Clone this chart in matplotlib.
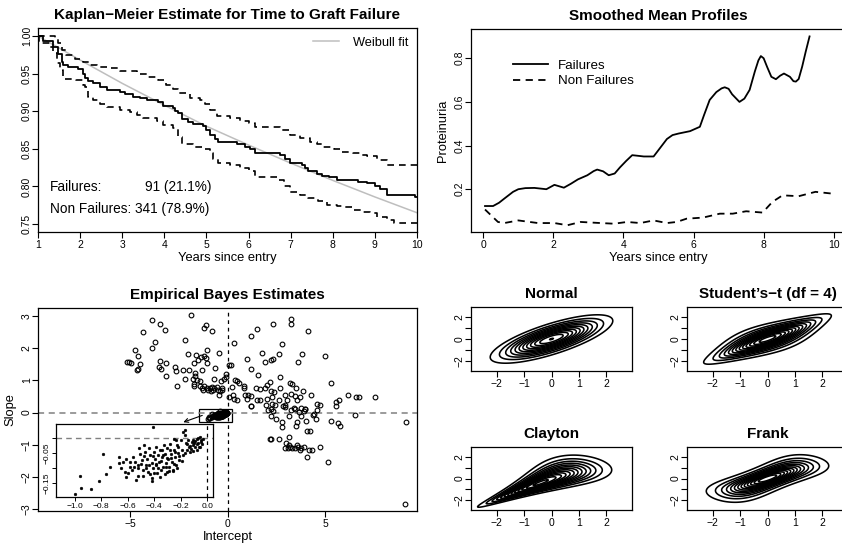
import math
import numpy as np
import matplotlib
matplotlib.use("Agg")
import matplotlib.pyplot as plt
from matplotlib.patches import Rectangle

plt.rcParams['font.family'] = ['Liberation Sans', 'DejaVu Sans']
plt.rcParams['axes.linewidth'] = 0.9

# ---------------- data ----------------
# Kaplan-Meier estimate (step times / survival) and 95% band
km_t = [1.0, 1.12, 1.36, 1.48, 1.56, 1.6, 1.71, 1.95, 2.07, 2.11, 2.19, 2.31, 2.47, 2.63, 2.94,
        3.06, 3.26, 3.42, 3.58, 3.85, 3.97, 4.2, 4.25, 4.33, 4.41, 4.57, 4.69, 4.93, 5.0, 5.08,
        5.2, 5.28, 5.72, 5.92, 6.04, 6.15, 6.75, 6.87, 6.99, 7.27, 7.35, 7.42, 7.62, 7.74, 7.9,
        8.1, 8.61, 8.81, 9.0, 9.13, 9.29, 9.96, 10.0]
km_s = [1.0, 0.993, 0.986, 0.976, 0.966, 0.962, 0.959, 0.956, 0.95, 0.944, 0.94, 0.937, 0.932,
        0.928, 0.926, 0.923, 0.919, 0.917, 0.915, 0.912, 0.907, 0.904, 0.9, 0.897, 0.89, 0.886,
        0.883, 0.88, 0.875, 0.868, 0.863, 0.859, 0.856, 0.853, 0.85, 0.845, 0.842, 0.836, 0.831,
        0.828, 0.824, 0.82, 0.817, 0.814, 0.812, 0.809, 0.806, 0.804, 0.8, 0.796, 0.789, 0.786,
        0.786]
up_t = [1.0, 1.36, 1.4, 1.48, 1.56, 1.67, 1.87, 2.07, 2.23, 2.39, 2.63, 2.94, 3.34, 3.58, 3.85,
        4.05, 4.21, 4.33, 4.61, 4.85, 4.97, 5.08, 5.24, 5.56, 5.8, 6.0, 6.15, 6.75, 6.99, 7.23,
        7.46, 7.62, 7.74, 8.02, 8.18, 8.49, 8.65, 8.81, 9.05, 9.29, 10.0]
up_s = [1.0, 1.0, 0.996, 0.99, 0.981, 0.975, 0.97, 0.966, 0.961, 0.959, 0.957, 0.954, 0.95,
        0.945, 0.941, 0.935, 0.93, 0.924, 0.918, 0.915, 0.91, 0.902, 0.893, 0.891, 0.887, 0.884,
        0.879, 0.875, 0.868, 0.864, 0.859, 0.856, 0.853, 0.85, 0.846, 0.844, 0.842, 0.84, 0.835,
        0.829, 0.829]
lo_t = [1.0, 1.03, 1.28, 1.36, 1.44, 1.52, 1.6, 1.91, 2.07, 2.11, 2.19, 2.31, 2.47, 2.63, 2.94,
        3.18, 3.34, 3.5, 3.82, 3.97, 4.21, 4.33, 4.41, 4.69, 4.93, 5.08, 5.16, 5.28, 5.56, 5.8,
        6.0, 6.15, 6.71, 6.83, 6.99, 7.23, 7.42, 7.66, 7.86, 8.1, 8.26, 8.49, 8.69, 8.89, 9.05,
        9.29, 9.45, 10.0]
lo_s = [1.0, 0.99, 0.986, 0.977, 0.964, 0.955, 0.943, 0.941, 0.935, 0.932, 0.919, 0.915, 0.91,
        0.906, 0.902, 0.899, 0.895, 0.891, 0.887, 0.882, 0.877, 0.866, 0.857, 0.853, 0.85, 0.844,
        0.837, 0.831, 0.828, 0.824, 0.82, 0.812, 0.809, 0.8, 0.793, 0.789, 0.784, 0.78, 0.775,
        0.774, 0.772, 0.769, 0.766, 0.764, 0.76, 0.756, 0.751, 0.751]
wb_t = [1, 2, 3, 4, 5, 6, 7, 8, 9, 10]
wb_s = [1.0, 0.968, 0.937, 0.908, 0.88, 0.855, 0.831, 0.808, 0.786, 0.765]

# smoothed mean proteinuria profiles
fail_t = [0.05, 0.28, 0.45, 0.6, 0.85, 1.0, 1.2, 1.46, 1.8, 2.03, 2.3, 2.5, 2.7, 2.97, 3.15,
          3.25, 3.42, 3.58, 3.75, 3.9, 4.08, 4.25, 4.42, 4.58, 4.86, 5.05, 5.24, 5.4, 5.57, 5.9,
          6.18, 6.3, 6.46, 6.65, 6.8, 6.89, 7.0, 7.1, 7.31, 7.45, 7.6, 7.75, 7.85, 7.92, 8.0,
          8.1, 8.22, 8.35, 8.47, 8.58, 8.75, 8.85, 8.92, 9.0, 9.1, 9.2, 9.31]
fail_v = [0.123, 0.123, 0.138, 0.157, 0.188, 0.2, 0.205, 0.206, 0.2, 0.22, 0.207, 0.225, 0.245,
          0.264, 0.283, 0.29, 0.282, 0.264, 0.272, 0.3, 0.33, 0.356, 0.353, 0.35, 0.35, 0.39,
          0.43, 0.448, 0.455, 0.466, 0.486, 0.54, 0.609, 0.645, 0.662, 0.667, 0.66, 0.635, 0.6,
          0.615, 0.655, 0.74, 0.79, 0.81, 0.8, 0.76, 0.715, 0.704, 0.72, 0.73, 0.715, 0.695,
          0.693, 0.705, 0.762, 0.83, 0.9]
nonf_t = [0.05, 0.42, 0.6, 1.0, 1.56, 2.03, 2.4, 2.78, 3.35, 3.73, 4.1, 4.48, 4.86, 5.24, 5.52,
          5.8, 6.27, 6.75, 7.12, 7.5, 7.97, 8.25, 8.54, 9.0, 9.48, 9.95]
nonf_v = [0.107, 0.05, 0.045, 0.057, 0.045, 0.045, 0.035, 0.05, 0.045, 0.042, 0.05, 0.045,
          0.057, 0.045, 0.05, 0.065, 0.07, 0.088, 0.088, 0.099, 0.093, 0.142, 0.172, 0.168,
          0.188, 0.18]

# empirical Bayes estimates (intercept, slope), points away from the origin cluster
eb_int = [-1.85, -3.87, -3.44, -3.2, -4.32, -1.08, -1.2, -0.8, -3.74, -2.17, -3.87, -4.72, -4.57,
          -2.04, -1.05, -0.45, -1.64, -1.37, -1.23, -1.08, -1.51, -1.03, -1.72, -5.17, -5.03,
          -4.95, -4.49, -3.47, -3.18, -4.6, -4.62, -3.53, -3.41, -2.71, -2.62, -2.29, -1.97, -1.32,
          -0.64, -1.69, -1.66, -3.15, -2.19, -1.75, -1.56, -1.4, -0.7, -0.2, -0.07, -0.31, -1.72,
          -1.7, -1.42, -1.3, -1.18, -2.57, -1.05, -0.91, -0.8, -0.67, -0.53, -1.25, -0.98, -0.84,
          -0.74, -0.5, -0.36, -0.26, -0.26, -0.45,
          3.28, 3.28, 2.32, 1.5, 4.14, 1.23, 0.34, 2.78, 1.76, 2.65, 3.83, 1.01, 4.99, 2.24, 2.32,
          1.91, 3.61, 0.1, 0.2, 1.18, -0.07, 1.59, 2.7, 0.38, 0.51, 0.58, 2.17, 3.21, 3.33, 3.49,
          5.33, 0.24, 0.84, 1.47, 1.66, 1.91, 2.05, 2.68, 3.86, 0.29, 0.84, 0.89, 2.22, 2.36, 2.94,
          3.28, 3.45, 3.74, 4.27, 0.08, 0.34, 0.49, 1.06, 1.2, 1.02, 1.49, 1.69, 2.05, 2.26, 2.65,
          3.03, 3.54, 6.19, 6.61, 6.72, 7.59, 5.71, 5.59, 4.61, 4.77, 3.79, 3.96, 3.42, 2.85, 2.97,
          2.29, 2.43, 1.95, 1.2, 5.54,
          1.18, 2.08, 2.25, 2.34, 2.94, 3.25, 3.45, 3.66, 3.9, 4.0, 4.44, 4.39, 4.61, 4.56, 2.25,
          2.51, 3.16, 3.76, 2.82, 2.77, 3.57, 3.49, 4.05, 5.33, 5.67, 5.79, 6.56, 9.16, 2.17, 2.25,
          2.63, 3.18, 3.02, 3.14, 4.1, 4.24, 2.94, 3.08, 3.21, 3.33, 3.45, 3.62, 3.79, 3.9, 3.71,
          3.59, 4.2, 4.34, 4.72, 4.07, 5.16, 9.09]
eb_slope = [3.03, 2.88, 2.75, 2.58, 2.52, 2.72, 2.64, 2.53, 2.2, 2.25, 2.0, 1.94, 1.77, 1.84, 1.94,
            1.86, 1.78, 1.73, 1.77, 1.7, 1.63, 1.55, 1.53, 1.58, 1.57, 1.56, 1.51, 1.6, 1.54, 1.35,
            1.32, 1.42, 1.35, 1.42, 1.28, 1.33, 1.32, 1.32, 1.4, 1.22, 1.14, 1.13, 1.04, 1.06, 1.01,
            0.97, 1.04, 1.04, 1.11, 0.98, 0.9, 0.83, 0.82, 0.78, 0.82, 0.84, 0.78, 0.76, 0.8, 0.76,
            0.8, 0.71, 0.69, 0.67, 0.69, 0.69, 0.67, 0.78, 0.69, 0.56,
            2.93, 2.77, 2.75, 2.59, 2.53, 2.38, 2.17, 2.13, 1.87, 1.84, 1.84, 1.68, 1.75, 1.65, 1.67,
            1.58, 1.58, 1.47, 1.49, 1.35, 1.21, 1.17, 1.11, 1.03, 0.98, 0.92, 0.96, 0.93, 0.88, 0.76,
            0.91, 0.79, 0.84, 0.75, 0.72, 0.75, 0.85, 0.78, 0.67, 0.55, 0.75, 0.55, 0.67, 0.64, 0.54,
            0.59, 0.51, 0.49, 0.54, 0.47, 0.43, 0.38, 0.56, 0.51, 0.43, 0.4, 0.38, 0.43, 0.49, 0.38,
            0.38, 0.4, 0.54, 0.47, 0.49, 0.49, 0.4, 0.33, 0.28, 0.25, 0.15, 0.12, 0.15, 0.2, 0.23,
            0.26, 0.22, 0.23, 0.2, 0.2,
            0.21, 0.07, 0.1, 0.04, 0.17, 0.07, 0.12, 0.02, 0.04, 0.1, -0.03, -0.08, 0.07, -0.19,
            -0.1, -0.19, -0.1, -0.1, -0.29, -0.45, -0.31, -0.42, -0.27, -0.27, -0.32, -0.43, -0.08,
            -0.31, -0.81, -0.81, -0.81, -0.76, -0.94, -1.02, -0.58, -0.58, -1.1, -1.12, -1.08,
            -1.12, -1.1, -1.08, -1.1, -1.08, -1.17, -1.02, -1.17, -1.17, -1.08, -1.4, -1.55, -2.84]

# cluster of estimates close to the origin (shown enlarged in the inset)
zm_int = [-0.41, -0.995, -0.957, -0.952, -0.874, -0.816, -0.786, -0.76, -0.735, -0.665, -0.665,
          -0.654, -0.622, -0.614, -0.609, -0.601, -0.564, -0.559, -0.548, -0.524, -0.521, -0.508,
          -0.495, -0.488, -0.483, -0.471, -0.463, -0.458, -0.446, -0.438, -0.433, -0.42, -0.418,
          -0.416, -0.408, -0.403, -0.395, -0.388, -0.383, -0.378, -0.37, -0.362, -0.357, -0.35,
          -0.342, -0.332, -0.327, -0.319, -0.312, -0.307, -0.302, -0.294, -0.287, -0.282, -0.276,
          -0.269, -0.261, -0.251, -0.244, -0.236, -0.226, -0.218, -0.211, -0.2, -0.193, -0.18,
          -0.185, -0.17, -0.168, -0.155, -0.15, -0.143, -0.13, -0.117, -0.104, -0.091, -0.079,
          -0.066, -0.058, -0.048, -0.04, -0.033, -0.053, -0.079, -0.104, -0.13, -0.251, -0.236,
          -0.537, -0.584, -0.634, -0.513, -0.478,
          -0.41, -0.39, -0.37, -0.35, -0.33, -0.31, -0.29, -0.27, -0.25, -0.23, -0.21, -0.44, -0.46,
          -0.48, -0.5, -0.52, -0.55, -0.58, -0.36, -0.32, -0.28, -0.24, -0.19, -0.17, -0.14, -0.12,
          -0.1, -0.09, -0.075, -0.06, -0.05, -0.07, -0.11, -0.16, -0.43, -0.4, -0.34, -0.3, -0.26,
          -0.22]
zm_slope = [0.038, -0.187, -0.127, -0.168, -0.17, -0.143, -0.053, -0.121, -0.096, -0.064, -0.082,
            -0.101, -0.112, -0.129, -0.068, -0.116, -0.107, -0.062, -0.079, -0.127, -0.09, -0.051,
            -0.073, -0.107, -0.127, -0.046, -0.09, -0.068, -0.112, -0.034, -0.057, -0.082, -0.134,
            -0.142, -0.101, -0.046, -0.068, -0.029, -0.09, -0.118, -0.057, -0.079, -0.04, -0.107,
            -0.064, -0.096, -0.023, -0.051, -0.082, -0.112, -0.034, -0.068, -0.096, -0.02, -0.051,
            -0.079, -0.107, -0.038, -0.062, -0.09, -0.023, -0.049, -0.073, -0.007, -0.038, -0.057,
            0.021, 0.029, 0.01, -0.018, -0.04, -0.007, -0.027, -0.012, -0.023, -0.009, -0.001,
            -0.016, 0.004, -0.007, -0.018, -0.001, -0.029, -0.038, -0.042, -0.046, -0.001, -0.007,
            -0.14, -0.096, -0.079, -0.034, -0.023,
            -0.06, -0.085, -0.1, -0.075, -0.055, -0.095, -0.11, -0.065, -0.085, -0.1, -0.06, -0.09,
            -0.1, -0.06, -0.085, -0.1, -0.095, -0.08, -0.13, -0.12, -0.04, -0.045, -0.075, -0.05,
            -0.03, -0.035, -0.015, -0.03, -0.02, -0.03, -0.012, 0.0, -0.005, -0.015, -0.12, -0.115,
            -0.04, -0.065, -0.11, -0.03]

# copula parameters (normal margins)
copula_titles = ["Normal", "Student\u2019s\u2212t (df = 4)", "Clayton", "Frank"]
rho_normal = 0.75
rho_t, df_t = 0.75, 4
theta_clayton = 2.3
theta_frank = 6.5

# ---------------- helpers ----------------
W, H = 842, 547
fig = plt.figure(figsize=(W / 100, H / 100), dpi=100)


def box(l, t, r, b):
    return fig.add_axes([l / W, 1 - b / H, (r - l) / W, (b - t) / H])


def style(ax, size=7.5):
    ax.tick_params(direction='out', length=4, width=0.8, labelsize=size)
    ax.tick_params(axis='x', pad=1.5)
    ax.tick_params(axis='y', labelrotation=90, pad=0.5)
    for lab in ax.get_yticklabels():
        lab.set_va('center')


TITLE = dict(fontsize=11, fontweight='bold', pad=6.5)
LAB = 9.3

# ---------------- Kaplan-Meier ----------------
ax1 = box(38, 28, 417, 232)
ax1.plot(wb_t, wb_s, color='#bebebe', lw=1.1, label='Weibull fit')
ax1.plot(km_t, km_s, drawstyle='steps-post', color='black', lw=1.3)
ax1.plot(up_t, up_s, drawstyle='steps-post', color='black', lw=1.2, ls=(0, (4, 3)))
ax1.plot(lo_t, lo_s, drawstyle='steps-post', color='black', lw=1.2, ls=(0, (4, 3)))
ax1.set_xlim(1, 10)
ax1.set_ylim(0.7394, 1.0106)
ax1.set_xticks(range(1, 11))
ax1.set_yticks([0.75, 0.80, 0.85, 0.90, 0.95, 1.00])
ax1.set_yticklabels(['0.75', '0.80', '0.85', '0.90', '0.95', '1.00'])
style(ax1)
ax1.set_xlabel('Years since entry', fontsize=LAB, labelpad=2)
ax1.set_title('Kaplan\u2212Meier Estimate for Time to Graft Failure', **TITLE)
ax1.legend(loc='upper right', frameon=False, fontsize=9.2, handlelength=2.0,
           handletextpad=1.1, borderaxespad=0.3)
ax1.text(1.28, 0.799, 'Failures:', fontsize=9.8, va='center')
ax1.text(5.11, 0.799, '91 (21.1%)', fontsize=9.8, va='center', ha='right')
ax1.text(1.28, 0.770, 'Non Failures: 341 (78.9%)', fontsize=9.8, va='center')

# ---------------- smoothed profiles ----------------
ax2 = box(471, 29, 846, 232)
ax2.plot(fail_t, fail_v, color='black', lw=1.3, label='Failures')
ax2.plot(nonf_t, nonf_v, color='black', lw=1.3, ls=(0, (4, 3)), label='Non Failures')
ax2.set_xlim(-0.35, 10.35)
ax2.set_ylim(0.004, 0.934)
ax2.set_xticks([0, 2, 4, 6, 8, 10])
ax2.set_yticks([0.2, 0.4, 0.6, 0.8])
style(ax2)
ax2.set_xlabel('Years since entry', fontsize=LAB, labelpad=2)
ax2.set_ylabel('Proteinuria', fontsize=LAB, labelpad=4)
ax2.set_title('Smoothed Mean Profiles', **TITLE)
ax2.legend(loc='upper left', bbox_to_anchor=(0.08, 0.91), frameon=False, fontsize=9.6,
           handlelength=2.6, labelspacing=0.25)

# ---------------- empirical Bayes ----------------
ax3 = box(38, 308, 417, 511)
ax3.axhline(0, color='#808080', lw=1.1, ls=(0, (4, 3)))
ax3.axvline(0, color='black', lw=0.9, ls=(0, (3, 3)))
ax3.plot(eb_int, eb_slope, 'o', mfc='none', mec='black', ms=3.4, mew=0.8)
ax3.plot(zm_int, zm_slope, 'o', mfc='none', mec='black', ms=3.4, mew=0.8)
ax3.set_xlim(-9.72, 9.72)
ax3.set_ylim(-3.07, 3.26)
ax3.set_xticks([-5, 0, 5])
ax3.set_yticks(range(-3, 4))
style(ax3)
ax3.set_xlabel('Intercept', fontsize=LAB, labelpad=2)
ax3.set_ylabel('Slope', fontsize=LAB, labelpad=4)
ax3.set_title('Empirical Bayes Estimates', **TITLE)
ax3.add_patch(Rectangle((-1.46, -0.29), 1.67, 0.415, fill=False, lw=0.9))
ax3.annotate('', xy=(-2.4, -0.33), xytext=(-1.16, -0.06),
             arrowprops=dict(arrowstyle='->', lw=0.8, mutation_scale=7))

ins = ax3.inset_axes([-8.82, -2.63, 8.08, 2.26], transform=ax3.transData)
ins.axhline(0, color='#808080', lw=1.0, ls=(0, (4, 3)))
ins.axvline(0, color='black', lw=0.9, ls=(0, (3, 3)))
ins.plot(zm_int, zm_slope, 'o', color='black', ms=2.0, mew=0.3)
ins.set_xlim(-1.144, 0.044)
ins.set_ylim(-0.197, 0.047)
ins.set_xticks([-1.0, -0.8, -0.6, -0.4, -0.2, 0.0])
ins.set_xticklabels(['\u22121.0', '\u22120.8', '\u22120.6', '\u22120.4', '\u22120.2', '0.0'])
ins.set_yticks([-0.15, -0.10, -0.05, 0.0])
ins.set_yticklabels(['\u22120.15', '', '\u22120.05', ''])
ins.tick_params(direction='out', length=3, width=0.7, labelsize=6, pad=1.5)
ins.tick_params(axis='y', labelrotation=90, pad=0.5)
for lab in ins.get_yticklabels():
    lab.set_va('center')

# ---------------- copula contours ----------------
g = np.linspace(-3, 3, 241)
X, Y = np.meshgrid(g, g)
erf = np.vectorize(math.erf)
U = 0.5 * (1 + erf(X / math.sqrt(2)))
V = 0.5 * (1 + erf(Y / math.sqrt(2)))
U = np.clip(U, 1e-12, 1 - 1e-12)
V = np.clip(V, 1e-12, 1 - 1e-12)
phi = np.exp(-X ** 2 / 2) * np.exp(-Y ** 2 / 2) / (2 * math.pi)

r = rho_normal
dens_n = np.exp(-(X ** 2 - 2 * r * X * Y + Y ** 2) / (2 * (1 - r ** 2))) / (2 * math.pi * math.sqrt(1 - r ** 2))


def t4_quantile(p):
    a = 4 * p * (1 - p)
    q = np.cos(np.arccos(np.sqrt(a)) / 3) / np.sqrt(a)
    return np.sign(p - 0.5) * 2 * np.sqrt(np.maximum(q - 1, 0))


nu, r = df_t, rho_t
tx, ty = t4_quantile(U), t4_quantile(V)
c2 = math.gamma((nu + 2) / 2) / (math.gamma(nu / 2) * nu * math.pi * math.sqrt(1 - r ** 2))
f2 = c2 * (1 + (tx ** 2 - 2 * r * tx * ty + ty ** 2) / (nu * (1 - r ** 2))) ** (-(nu + 2) / 2)
c1 = math.gamma((nu + 1) / 2) / (math.sqrt(nu * math.pi) * math.gamma(nu / 2))
f1x = c1 * (1 + tx ** 2 / nu) ** (-(nu + 1) / 2)
f1y = c1 * (1 + ty ** 2 / nu) ** (-(nu + 1) / 2)
dens_t = f2 / (f1x * f1y) * phi

th = theta_clayton
dens_c = (1 + th) * (U * V) ** (-1 - th) * (U ** -th + V ** -th - 1) ** (-2 - 1 / th) * phi

th = theta_frank
e = 1 - math.exp(-th)
dens_f = th * e * np.exp(-th * (U + V)) / (e - (1 - np.exp(-th * U)) * (1 - np.exp(-th * V))) ** 2 * phi

dens = [dens_n, dens_t, dens_c, dens_f]
boxes = [(471, 307, 632, 371), (687, 307, 848, 371), (471, 447, 632, 510), (687, 447, 848, 510)]
for title, d, bx in zip(copula_titles, dens, boxes):
    ax = box(*bx)
    levels = np.arange(0.02, d.max(), 0.02)
    ax.contour(X, Y, d, levels=levels, colors='black', linewidths=1.15, linestyles='solid')
    ax.set_xlim(-2.93, 2.93)
    ax.set_ylim(-2.95, 2.95)
    ax.set_xticks([-2, -1, 0, 1, 2])
    ax.set_yticks([-2, -1, 0, 1, 2])
    ax.set_yticklabels(['\u22122', '', '0', '', '2'])
    style(ax)
    ax.set_title(title, **TITLE)

fig.savefig('out.png', dpi=100)
